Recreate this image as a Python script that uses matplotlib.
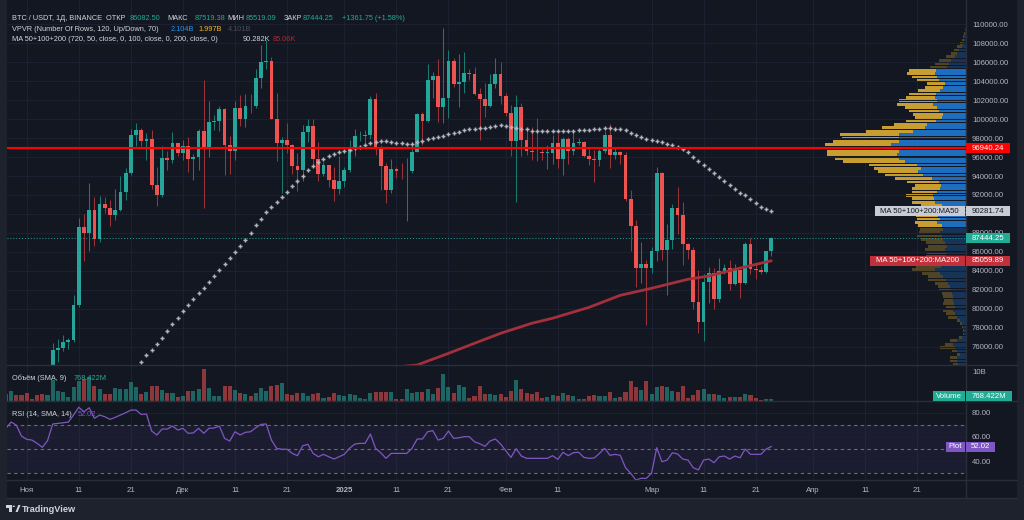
import matplotlib.pyplot as plt
from matplotlib.patches import Rectangle, Polygon, Circle
from matplotlib.lines import Line2D
from matplotlib.transforms import blended_transform_factory
from matplotlib.colors import to_rgba
import numpy as np

plt.rcParams['font.family'] = ['Liberation Sans', 'DejaVu Sans']

W, H = 1024, 520

# day 0 = 1 Nov 2024, first candle is 28 Oct 2024
first_day = -4

opens = [
    67930, 69907, 72720, 72339,
    70215, 69482, 69289, 68741, 67811, 69359, 75639, 75904, 76545, 76678,
    80370, 88647, 87952, 90375, 87325, 91032, 90586, 89855, 90464, 92310,
    94286, 98317, 98892, 97672, 97900, 93010, 91965, 95863, 95643, 97461,
    96407, 97185, 95840, 96002, 98768, 96945, 99740, 99831, 101109, 97276,
    96593, 101125, 100001, 101417, 101372, 104298, 106029, 106140, 100041, 97490,
    97755, 97224, 95104, 94686, 98676, 99299, 95795, 94164, 95163, 93530, 92643,
    93429, 94591, 96985, 98174, 98236, 98314, 102078, 96922, 95043, 92484,
    94701, 94566, 94488, 94516, 96534, 100504, 99756, 104077, 104556, 101331,
    102260, 106143, 103706, 103960, 104820, 104714, 102682, 102087, 101332, 103733, 104722,
    102429, 100636, 97700, 101328, 97763, 96612, 96554, 96506, 96444, 96462,
    97430, 95778, 97869, 96608, 97500, 97569, 96118, 95780, 95671, 96644,
    98305, 96181, 96551, 96258, 91552, 88680, 84250, 84708,
    84349, 86064, 94270, 86220, 87281, 90606, 89931, 86801, 86222, 80734,
    78595, 82862, 83722, 81066, 83969, 84343, 82580, 84075, 82718, 86854,
    84167, 84043, 83832, 86082.50,
]
closes = [
    69907, 72720, 72339, 70215,
    69482, 69289, 68741, 67811, 69359, 75639, 75904, 76545, 76678, 80370,
    88647, 87952, 90375, 87325, 91032, 90586, 89855, 90464, 92310, 94286,
    98317, 98892, 97672, 97900, 93010, 91965, 95863, 95643, 97461, 96407,
    97185, 95840, 96002, 98768, 96945, 99740, 99831, 101109, 97276, 96593,
    101125, 100001, 101417, 101372, 104298, 106029, 106140, 100041, 97490, 97755,
    97224, 95104, 94686, 98676, 99299, 95795, 94164, 95163, 93530, 92643, 93429,
    94591, 96985, 98174, 98236, 98314, 102078, 96922, 95043, 92484, 94701,
    94566, 94488, 94516, 96534, 100504, 99756, 104077, 104556, 101331, 102260,
    106143, 103706, 103960, 104820, 104714, 102682, 102087, 101332, 103733, 104722, 102429,
    100636, 97700, 101328, 97763, 96612, 96554, 96506, 96444, 96462, 97430,
    95778, 97869, 96608, 97500, 97569, 96118, 95780, 95671, 96644, 98305,
    96181, 96551, 96258, 91552, 88680, 84250, 84708, 84349,
    86064, 94270, 86220, 87281, 90606, 89931, 86801, 86222, 80734, 78595,
    82862, 83722, 81066, 83969, 84343, 82580, 84075, 82718, 86854, 84167,
    84043, 83832, 86082.50, 87444.25,
]
highs = [
    70270, 73620, 72985, 72700,
    71632, 70200, 69400, 69432, 70522, 76400, 76849, 77199, 76927, 81500,
    89530, 89956, 93265, 91790, 91850, 91779, 91449, 92594, 94002, 94831,
    98989, 99588, 99100, 98564, 98871, 94973, 97208, 96650, 98693, 97463,
    97836, 98130, 96305, 99000, 104088, 101898, 100439, 101399, 101215, 98270,
    101895, 102540, 102650, 102650, 105250, 107780, 108353, 106524, 102800, 98100,
    99540, 97360, 96416, 99404, 99962, 99963, 97544, 95525, 95174, 94903, 96150,
    94950, 97839, 98976, 98734, 98813, 102482, 102724, 97258, 95349, 95836,
    95000, 95378, 95940, 97371, 100681, 100781, 105865, 104988, 106315, 109588,
    107240, 106394, 106850, 107120, 105286, 105500, 103260, 103783, 104800, 106457, 106012,
    102783, 101456, 102500, 101700, 99000, 99167, 100137, 96880, 97323, 98345,
    98478, 98119, 98076, 98826, 97972, 97732, 97046, 96753, 96899, 98766,
    99508, 96980, 96650, 96500, 92540, 89414, 87000, 85120,
    86558, 95000, 94416, 88911, 91000, 92810, 91283, 86897, 86500, 84123,
    83617, 84358, 84300, 85309, 84672, 85117, 84756, 84100, 87022, 87443,
    84850, 84513, 86106, 87519.38,
]
lows = [
    67620, 69730, 71436, 69680,
    68820, 68900, 67478, 66835, 67458, 69298, 74416, 75555, 75714, 76495,
    80216, 85072, 86127, 86668, 87073, 90056, 88722, 89376, 90357, 91500,
    94136, 97122, 97118, 95734, 92600, 90791, 91792, 94677, 95407, 96150,
    95693, 94395, 93578, 94660, 90600, 95981, 98844, 98771, 94150, 94256,
    95658, 99311, 99206, 100626, 101225, 103333, 105321, 100000, 95587, 92175,
    96416, 94202, 92403, 93448, 97593, 95199, 93500, 94014, 92881, 91317, 92143,
    92807, 94392, 96100, 97735, 97200, 97926, 96181, 92500, 91203, 92206,
    93831, 93712, 89256, 94310, 96500, 97306, 99716, 102277, 99651, 99550,
    100103, 103339, 101262, 102750, 104106, 102505, 97777, 100273, 101328, 103300, 101560,
    100279, 96150, 91231, 96150, 96208, 95707, 95620, 95688, 94713, 95256,
    94876, 94088, 95217, 96252, 97223, 96055, 95205, 93388, 95029, 96390,
    94871, 95770, 95227, 91350, 86050, 82256, 82716, 78258,
    83824, 85050, 85117, 81500, 86334, 87836, 84667, 85218, 80000, 77459,
    76606, 80635, 79939, 80766, 83639, 82017, 82457, 81179, 82569, 83647,
    83175, 83674, 83795, 85519.09,
]
# volume, billions
volumes = [
    2.30, 3.56, 2.07, 2.07,
    2.64, 0.69, 2.07, 2.30, 2.07, 7.24, 3.45, 2.99, 1.49, 4.94,
    7.01, 7.58, 8.16, 5.17, 4.14, 2.30, 2.30, 4.37, 4.02, 4.02,
    6.66, 4.94, 2.30, 2.99, 5.17, 5.17, 3.79, 2.64, 2.87, 1.49,
    1.84, 3.56, 3.56, 4.14, 11.03, 4.60, 1.84, 1.84, 5.29, 5.17,
    3.79, 2.87, 2.30, 1.72, 2.64, 4.60, 3.45, 5.29, 5.52, 6.09,
    2.30, 2.07, 2.64, 2.64, 1.72, 2.30, 2.64, 1.15, 1.49, 2.64, 2.18,
    1.72, 2.30, 1.95, 1.15, 0.80, 2.64, 3.22, 3.22, 3.22, 2.99,
    0.69, 0.69, 4.02, 2.87, 2.99, 2.99, 4.02, 2.30, 4.60, 9.31,
    4.94, 2.64, 5.52, 4.94, 1.15, 1.72, 5.17, 2.41, 2.53, 2.18, 2.41,
    1.26, 3.45, 7.24, 4.02, 2.64, 2.53, 3.10, 0.92, 1.38, 2.07,
    1.84, 2.76, 2.07, 1.84, 0.80, 0.80, 1.61, 2.18, 1.72, 1.72,
    3.22, 1.15, 1.26, 2.99, 6.89, 4.94, 3.68, 6.89,
    2.30, 4.94, 5.29, 4.83, 3.45, 3.10, 5.29, 1.15, 2.18, 3.79,
    4.02, 2.53, 2.41, 2.07, 1.03, 1.49, 1.49, 1.49, 2.53, 1.95,
    1.03, 0.46, 0.80, 0.77,
]
rsi = [
    67.1, 72.3, 69.8, 60.7,
    58.0, 57.4, 54.7, 51.4, 56.9, 70.7, 71.2, 71.7, 72.3, 78.1,
    84.5, 80.8, 84.1, 75.4, 78.1, 76.7, 74.5, 76.2, 78.1, 80.0,
    82.2, 82.2, 78.6, 78.9, 64.9, 61.6, 66.5, 66.5, 69.0, 65.7,
    67.1, 63.0, 63.3, 67.1, 63.0, 67.1, 67.4, 69.0, 58.8, 56.6,
    64.3, 61.6, 63.8, 64.3, 67.6, 70.4, 70.7, 57.4, 50.6, 49.8,
    49.8, 46.4, 44.5, 52.7, 53.9, 46.4, 43.6, 45.6, 43.6, 41.7, 43.6,
    45.6, 50.6, 54.1, 54.7, 54.7, 62.4, 50.6, 46.9, 42.3, 46.4,
    46.4, 46.4, 46.4, 50.6, 58.3, 58.3, 64.3, 65.2, 57.4, 58.8,
    64.9, 58.8, 59.3, 60.2, 60.2, 56.0, 54.4, 52.2, 56.7, 58.3, 54.2,
    48.6, 43.1, 50.3, 44.2, 42.3, 42.3, 42.3, 42.3, 42.3, 44.5,
    41.5, 47.3, 44.5, 47.0, 47.3, 43.1, 42.3, 42.6, 46.4, 50.6,
    44.8, 45.6, 44.8, 34.6, 29.9, 24.4, 25.8, 25.8,
    29.9, 51.1, 39.5, 40.9, 46.9, 45.9, 41.7, 40.9, 34.6, 32.7,
    40.9, 41.7, 38.7, 43.6, 44.2, 41.7, 44.2, 42.8, 50.0, 45.6,
    45.6, 45.6, 50.0, 52.02,
]

ma50_first_day = 22
ma50 = [
    74355, 75093, 75684, 76284, 76949, 77655, 78394, 79058, 79765, 80397,
    81030, 81631, 82222, 82855, 83487, 84120, 84690, 85322, 85955, 86620,
    87284, 88022, 88803, 89499, 90200,
    90732, 91260, 91819, 92346, 92915, 93443, 94033, 94603, 95025, 95447,
    95826, 96111, 96354, 96501, 96607, 96744, 96986, 97092, 97239, 97482,
    97619, 97724, 97661, 97587, 97514, 97450, 97376, 97376, 97550, 97693,
    97904, 98009, 98115, 98220, 98399, 98536, 98674, 98821, 98927, 98990,
    99032, 99096, 99201, 99275, 99349, 99307, 99201, 99096, 98990, 98927,
    98779, 98747, 98747, 98747, 98779, 98779, 98779, 98716, 98747, 98821,
    98853, 98885, 98958, 98990, 99064, 99032, 98990, 98958, 98853, 98568,
    98326, 98115, 97935, 97798, 97724, 97587, 97408, 97271, 97028, 96817,
    96501, 96037, 95584, 95162, 94708, 94318, 93896, 93474, 93052, 92630,
    92241, 91998, 91576, 91186, 90764, 90490, 90282,
]
ma200_days = [68, 75, 81, 86, 91, 97, 101, 108, 114, 120, 127, 131, 136, 143]
ma200 = [73700, 74070, 75300, 76360, 77410, 78470, 79000, 80150, 81420, 82160,
         83110, 83450, 84160, 85060]

# visible range volume profile, rows from the top (bar lengths read in px)
vp_top = 109600
vp_step = 356.5
vp_up = [
    0.8, 1.3, 2.0, 2.3, 2.7, 4.3, 6.7, 9.3, 11.0, 15.3, 17.0, 19.3,
    30.0, 31.0, 28.7, 26.7, 21.0, 23.3, 26.0, 30.3, 31.0, 29.3,
    32.7, 29.3, 26.7, 23.3, 24.3, 30.0, 38.7, 41.0, 52.7, 66.7,
    66.7, 66.7, 75.3, 68.7, 67.3, 69.3, 66.7, 60.7, 49.3, 45.3,
    47.7, 42.7, 34.3, 26.7, 25.3, 26.0, 28.7, 32.7, 32.0, 31.0,
    24.3, 27.0, 25.0, 27.7, 26.0, 28.7, 24.3, 22.7, 26.0, 24.3,
    22.7, 21.0, 19.3, 21.0, 18.7, 20.0, 21.0, 22.0, 25.0, 31.0,
    26.0, 22.7, 20.0, 17.7, 16.0, 15.3, 14.3, 13.3, 12.7, 12.0,
    11.0, 12.7, 11.0, 9.3, 6.0, 4.3, 3.3, 2.0, 2.0, 4.3,
    9.3, 12.7, 11.0, 8.7, 6.0, 9.3, 9.3, 7.7,
]
vp_down = [
    0.7, 1.2, 1.5, 2.2, 3.3, 5.0, 5.3, 6.0, 9.0, 11.4, 14.0, 16.7,
    26.7, 28.3, 25.3, 22.6, 18.3, 17.7, 21.7, 26.4, 29.0, 38.0,
    36.6, 31.4, 30.0, 29.4, 26.4, 30.0, 33.0, 43.3, 47.3, 59.3,
    57.3, 66.0, 65.7, 74.0, 72.0, 70.0, 64.0, 62.0, 48.0, 46.7,
    40.6, 38.3, 36.7, 32.6, 25.7, 27.7, 25.3, 27.3, 22.0, 23.3,
    21.0, 23.0, 23.0, 22.3, 23.3, 22.3, 23.4, 23.3, 20.7, 25.0,
    22.3, 19.0, 18.4, 20.0, 20.6, 20.0, 21.0, 23.0, 25.0, 23.3,
    18.3, 15.0, 17.7, 13.3, 11.7, 11.4, 10.0, 10.0, 9.3, 10.7,
    9.0, 10.0, 9.0, 8.4, 3.3, 1.7, 1.0, 0.7, 1.3, 2.4,
    6.7, 8.3, 15.0, 5.6, 3.3, 6.7, 6.7, 5.6,
]
vp_value_area = (12, 58)
poc_price = 96940.24

tick_days = [0, 10, 20, 30, 40, 50, 61, 71, 81, 92, 102, 120, 130, 140, 151, 161, 171]
tick_labels = ['Ноя', '11', '21', 'Дек', '11', '21', '2025', '11', '21', 'Фев', '11',
               'Мар', '11', '21', 'Апр', '11', '21']
price_ticks = list(range(76000, 110001, 2000))
hidden_price_labels = [90000]  # sits fully under the MA50 tag

BG = '#131722'
FRAME = '#1e222d'
GRID = '#1c2030'
SEP = '#2a2e39'
TXT = '#d1d4dc'
AXTXT = '#b2b5be'
GREEN = '#26a69a'
RED = '#ef5350'
PURPLE = '#7e57c2'
FS = 5.6
HFS = 5.35

px_per_day = 5.207
x_left = (7 - 26.7) / px_per_day
x_right = (966 - 26.7) / px_per_day


def fx(x):
    return x / W


def fy(y):
    return 1 - y / H


fig = plt.figure(figsize=(W / 100, H / 100), dpi=100)
fig.patch.set_facecolor(FRAME)
fig.add_artist(Rectangle((fx(7), fy(498)), fx(1017) - fx(7), fy(0) - fy(498),
                         transform=fig.transFigure, facecolor=BG, edgecolor='none', zorder=-10))


def pane(top, bottom):
    a = fig.add_axes([fx(7), fy(bottom), fx(966) - fx(7), (bottom - top) / H])
    a.set_facecolor('none')
    for s in a.spines.values():
        s.set_visible(False)
    a.set_xlim(x_left, x_right)
    a.tick_params(axis='x', bottom=False, labelbottom=False)
    a.yaxis.tick_right()
    a.tick_params(axis='y', length=0, pad=4.3, labelsize=FS, labelcolor=AXTXT)
    for t in tick_days:
        a.axvline(t, color=GRID, lw=0.8, zorder=0)
    return a


ax = pane(0, 365)
axv = pane(365, 401)
axr = pane(401, 480)

days = np.arange(len(closes)) + first_day
o = np.array(opens, float)
c = np.array(closes, float)
is_up = c >= o

# main pane
ax.set_ylim(74070, 112563)
ax.set_yticks(price_ticks)
ax.set_yticklabels(['' if p in hidden_price_labels else f'{p:.2f}' for p in price_ticks])
ax.grid(axis='y', color=GRID, lw=0.8, zorder=0)

# volume profile (right aligned)
rows = np.arange(len(vp_up))
centers = vp_top - vp_step * (rows + 0.5)
up_w = np.array(vp_up) / px_per_day
dn_w = np.array(vp_down) / px_per_day
in_va = (rows >= vp_value_area[0]) & (rows <= vp_value_area[1])
up_cols = [to_rgba('#1e74c8', 0.95 if v else 0.32) for v in in_va]
dn_cols = [to_rgba('#d2a630', 0.95 if v else 0.32) for v in in_va]
ax.barh(centers, -up_w, left=x_right, height=vp_step * 0.82, color=up_cols, lw=0, zorder=1)
ax.barh(centers, -dn_w, left=x_right - up_w, height=vp_step * 0.82, color=dn_cols, lw=0, zorder=1)

ax.axhline(closes[-1], color=GREEN, lw=0.7, ls=(0, (1, 2)), zorder=2)

wick_cols = ['#1b7a6f' if u else '#9b3438' for u in is_up]
body_cols = [GREEN if u else RED for u in is_up]
ax.vlines(days, lows, highs, colors=wick_cols, lw=0.75, zorder=3)
ax.bar(days, np.maximum(np.abs(c - o), 60), bottom=np.minimum(o, c), width=0.72,
       color=body_cols, lw=0, zorder=4)

ax.plot(ma200_days, ma200, color='#a3303a', lw=2.0, solid_capstyle='round', zorder=5)
ax.plot(np.arange(len(ma50)) + ma50_first_day, ma50, ls='none', marker='+', ms=3.5,
        mew=1.05, color='#b2b5be', zorder=5)
ax.axhline(poc_price, color='#ff0000', lw=1.5, zorder=6)

# volume pane
axv.set_ylim(0, 12.41)
axv.set_yticks([10])
axv.set_yticklabels(['10B'])
vol_cols = [to_rgba(GREEN, 0.55) if u else to_rgba(RED, 0.55) for u in is_up]
axv.bar(days, volumes, width=0.78, color=vol_cols, lw=0, zorder=2)

# rsi pane
axr.set_ylim(24.4, 89.7)
axr.set_yticks([40, 60, 80])
axr.set_yticklabels(['40.00', '60.00', '80.00'])
axr.grid(axis='y', color=GRID, lw=0.8, zorder=0)
axr.axhspan(30, 70, color=PURPLE, alpha=0.09, lw=0, zorder=1)
for lvl in (70, 50, 30):
    axr.axhline(lvl, color='#6a6d78', lw=0.8, ls=(0, (3, 3)), zorder=2)
axr.plot(days, rsi, color=PURPLE, lw=0.9, zorder=3)

# separators
for yy in (365, 401, 480, 498):
    fig.add_artist(Line2D([fx(7), fx(1017)], [fy(yy), fy(yy)], transform=fig.transFigure,
                          color=SEP, lw=1))
fig.add_artist(Line2D([fx(966), fx(966)], [fy(0), fy(498)], transform=fig.transFigure,
                      color=SEP, lw=1))

# time axis
tr = blended_transform_factory(axr.transData, fig.transFigure)
for t, lab in zip(tick_days, tick_labels):
    axr.text(t, fy(492), lab, transform=tr, ha='center', va='baseline', fontsize=FS,
             color=AXTXT, fontweight='bold' if lab == '2025' else 'normal', clip_on=False)


def y_of(a, v):
    return fig.transFigure.inverted().transform(a.transData.transform((0, v)))[1]


def tag(x0, x1, yf, text, fc, tc='#ffffff', h=10):
    fig.add_artist(Rectangle((fx(x0), yf - h / 2 / H), (x1 - x0) / W, h / H,
                             transform=fig.transFigure, facecolor=fc, edgecolor='none', zorder=20))
    fig.text(fx((x0 + x1) / 2), yf, text, ha='center', va='center', fontsize=FS, color=tc, zorder=21)


yp = y_of(ax, poc_price)
tag(966, 1010, yp, f'{poc_price:.2f}', '#ff0000')
y50 = y_of(ax, 90281.74)
tag(875, 964.5, y50, 'MA 50+100+200:MA50', '#c9ccd4', '#131722')
tag(966, 1010, y50, '90281.74', '#c9ccd4', '#131722')
tag(966, 1010, y_of(ax, closes[-1]), f'{closes[-1]:.2f}', '#22ab94')
y200 = y_of(ax, 85059.89)
tag(870, 964.5, y200, 'MA 50+100+200:MA200', '#c2303b')
tag(966, 1010, y200, '85059.89', '#c2303b')
tag(933, 964.5, fy(396), 'Volume', '#22ab94')
tag(966, 1012, fy(396), '768.422M', '#22ab94')
yr = y_of(axr, rsi[-1])
tag(945.7, 964.5, yr, 'Plot', PURPLE)
tag(966, 995, yr, f'{rsi[-1]:.2f}', PURPLE)

# legends
legend_rows = [
    (20, [('BTC / USDT, 1Д, BINANCE  ОТКР', 11.7, TXT), ('86082.50', 129.5, '#22ab94'),
          ('МАКС', 167.3, TXT), ('87519.38', 194.3, '#22ab94'), ('МИН', 227.7, TXT),
          ('85519.09', 246, '#22ab94'), ('ЗАКР', 283.3, TXT), ('87444.25', 302.3, '#22ab94'),
          ('+1361.75 (+1.58%)', 341.7, '#22ab94')]),
    (30.7, [('VPVR (Number Of Rows, 120, Up/Down, 70)', 11.7, TXT), ('2.104B', 170.7, '#2196f3'),
            ('1.997B', 198.3, '#f5b324'), ('4.101B', 227.7, '#4c505b')]),
    (41.3, [('MA 50+100+200 (720, 50, close, 0, 100, close, 0, 200, close, 0)', 11.7, TXT),
            ('90.282K', 242.3, TXT), ('85.06K', 272.7, '#b22833')]),
    (380, [('Объём (SMA, 9)', 11.7, TXT), ('768.422M', 73.3, '#22ab94')]),
    (416, [('RSI (14, SMA, 14)', 11.7, TXT), ('52.02', 77.3, PURPLE)]),
]
for yb, parts in legend_rows:
    for text, xx, col in parts:
        fig.text(fx(xx), fy(yb), text, ha='left', va='baseline', fontsize=HFS, color=col, zorder=15)

# TradingView mark
LOGO = '#d1d4dc'
fig.add_artist(Rectangle((fx(6), fy(507.5)), 6 / W, 2.5 / H, transform=fig.transFigure,
                         facecolor=LOGO, edgecolor='none'))
fig.add_artist(Rectangle((fx(9), fy(512)), 3 / W, 7 / H, transform=fig.transFigure,
                         facecolor=LOGO, edgecolor='none'))
fig.add_artist(Circle((fx(13.8), fy(506.3)), 1.3 / W, transform=fig.transFigure,
                      facecolor=LOGO, edgecolor='none'))
fig.add_artist(Polygon([(fx(15.5), fy(512)), (fx(18.3), fy(505)), (fx(20.5), fy(505)),
                        (fx(17.7), fy(512))], closed=True, transform=fig.transFigure,
                       facecolor=LOGO, edgecolor='none'))
fig.text(fx(22), fy(511.5), 'TradingView', ha='left', va='baseline', fontsize=6.6,
         color=LOGO, fontweight='bold')

fig.savefig('out.png', dpi=100, facecolor=fig.get_facecolor())
